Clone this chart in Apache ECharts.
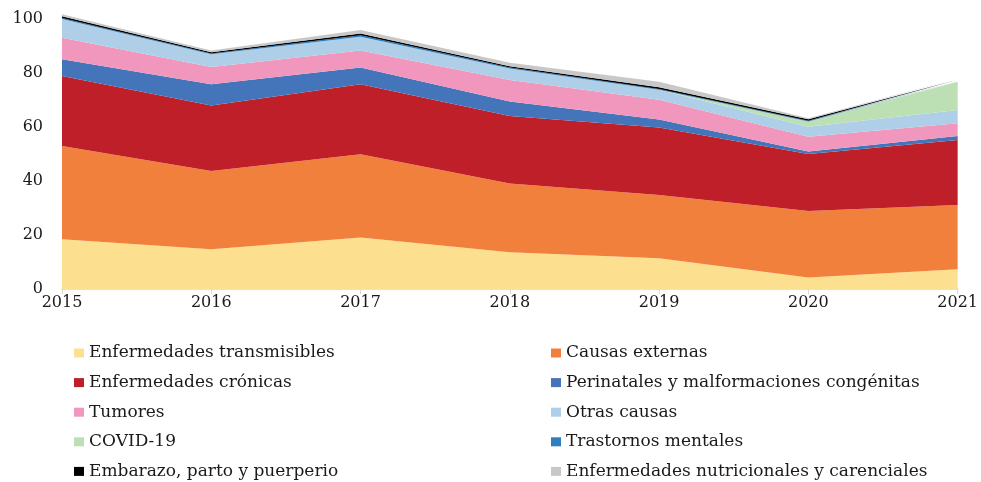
<!DOCTYPE html>
<html>
<head>
<meta charset="utf-8">
<script src="https://cdn.jsdelivr.net/npm/echarts@6/dist/echarts.min.js"></script>
<style>
  html, body { margin: 0; padding: 0; background: #fff; }
  #chart { width: 981px; height: 482px; }
</style>
</head>
<body>
<div id="chart"></div>
<script>
// años
var years = ['2015', '2016', '2017', '2018', '2019', '2020', '2021'];

// valores por grupo de causas (apilados)
var transmisibles = [18.4, 14.7, 19.1, 13.6, 11.4, 4.3, 7.3];
var externas      = [34.6, 29.0, 30.8, 25.5, 23.4, 24.6, 23.8];
var cronicas      = [25.9, 24.3, 25.9, 25.0, 25.0, 21.1, 24.1];
var perinatales   = [6.2, 7.8, 6.2, 5.3, 3.0, 0.9, 1.5];
var tumores       = [8.0, 6.4, 6.3, 8.0, 7.3, 5.5, 4.7];
var otras         = [6.9, 4.7, 5.1, 4.3, 3.7, 3.7, 4.9];
var covid         = [0, 0, 0, 0, 0, 1.9, 10.5];
var mentales      = [0.4, 0.3, 0.6, 0.3, 0.3, 0.3, 0.2];
var embarazo      = [0.6, 0.5, 0.6, 0.5, 0.6, 0.6, 0.5];
var nutricionales = [0.8, 0.6, 1.3, 1.3, 2.1, 0.3, 0.5];

var yTicks = [0, 20, 40, 60, 80, 100];

var names = [
  'Enfermedades transmisibles', 'Causas externas', 'Enfermedades crónicas',
  'Perinatales y malformaciones congénitas', 'Tumores', 'Otras causas',
  'COVID-19', 'Trastornos mentales', 'Embarazo, parto y puerperio',
  'Enfermedades nutricionales y carenciales'
];
var values = [transmisibles, externas, cronicas, perinatales, tumores, otras,
  covid, mentales, embarazo, nutricionales];
var colors = ['#fde08f', '#f0803c', '#bf1f29', '#4474b9', '#f196bc', '#aecfe7',
  '#bddfb4', '#2e7ec0', '#000000', '#c8c8c8'];

var fontFam = '"DejaVu Serif", serif';

var series = names.map(function (n, i) {
  return {
    name: n,
    type: 'line',
    stack: 'total',
    data: values[i],
    symbol: 'none',
    clip: false,
    lineStyle: { width: 0 },
    areaStyle: { color: colors[i], opacity: 1 },
    itemStyle: { color: colors[i] }
  };
});

var legendText = { fontFamily: fontFam, fontSize: 17, color: '#1a1a1a', lineHeight: 18 };

function legendCol(left, items) {
  return {
    orient: 'vertical', left: left, top: 344, height: 160, padding: 0,
    icon: 'rect', itemWidth: 10, itemHeight: 9, itemGap: 11.6,
    textStyle: legendText,
    data: items
  };
}

var chart = echarts.init(document.getElementById('chart'));
chart.setOption({
  animation: false,
  grid: { left: 62, right: 23, top: 19, bottom: 193 },
  legend: [
    legendCol(74, [names[0], names[2], names[4], names[6], names[8]]),
    legendCol(551, [names[1], names[3], names[5], names[7], names[9]])
  ],
  xAxis: {
    type: 'category',
    data: years,
    boundaryGap: false,
    axisLine: { lineStyle: { color: '#d9d9d9', width: 1.5 } },
    axisTick: { show: true, length: 5, lineStyle: { color: '#d9d9d9' } },
    axisLabel: { fontFamily: fontFam, fontSize: 16, color: '#1a1a1a', margin: 6 }
  },
  yAxis: {
    type: 'value',
    min: yTicks[0],
    max: yTicks[yTicks.length - 1],
    interval: 20,
    axisLine: { show: false },
    axisTick: { show: false },
    splitLine: { show: false },
    axisLabel: { fontFamily: fontFam, fontSize: 16, color: '#1a1a1a', margin: 19 }
  },
  series: series
});
</script>
</body>
</html>
